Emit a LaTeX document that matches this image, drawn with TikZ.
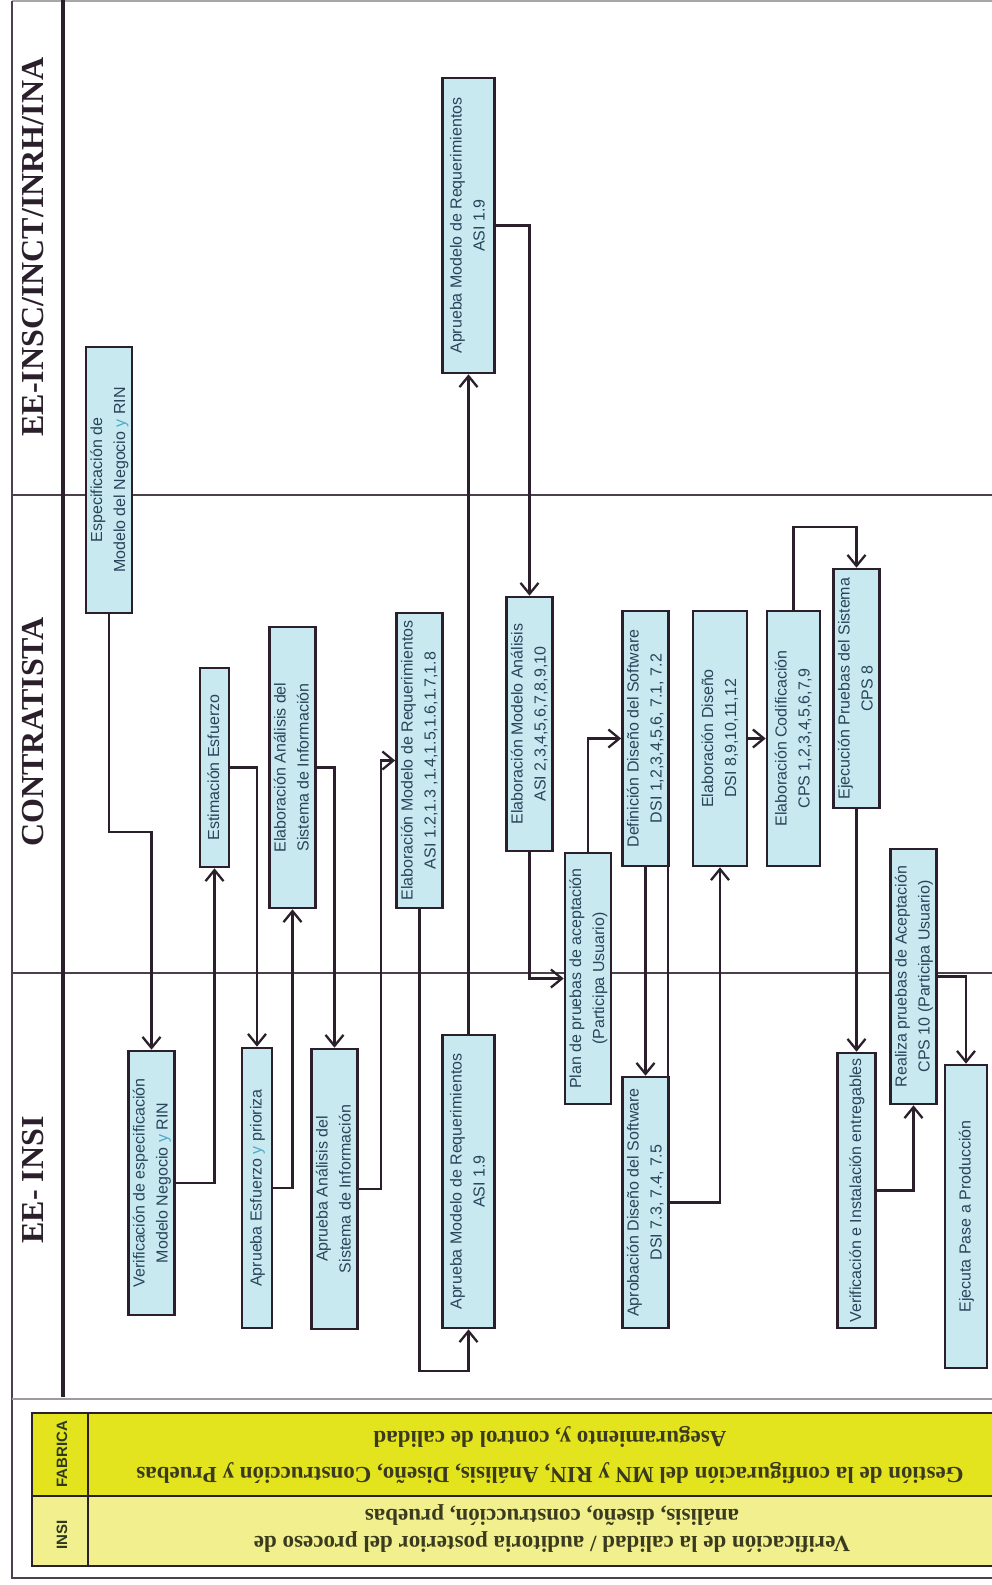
\documentclass[tikz,border=0pt]{standalone}
\usepackage{fontspec}
\usepackage{graphicx}
\setmainfont{Liberation Sans}
\newfontfamily\lanefont{Liberation Serif}
\usetikzlibrary{arrows.meta}
\definecolor{linec}{HTML}{2B1F2B}
\definecolor{boxc}{HTML}{C9E9F1}
\definecolor{txtc}{HTML}{28445A}
\definecolor{ylt}{HTML}{4FA9C8}
\definecolor{fabc}{HTML}{E3E31E}
\definecolor{insic}{HTML}{F1EF8E}
\definecolor{bandtxt}{HTML}{3A3A1E}
\definecolor{bandlbl}{HTML}{2E3A1E}
\newcommand{\vtext}[1]{\rotatebox{90}{\begin{tabular}{@{}c@{}}#1\end{tabular}}}
\tikzset{
  task/.style={draw=linec, line width=2.6pt, fill=boxc, inner sep=0pt, text=txtc,
    font=\fontsize{16}{23}\selectfont},
  flow/.style={draw=linec, line width=2.3pt, -{Straight Barb[length=11pt,width=18pt]}},
  lane/.style={draw=linec!85, line width=2pt},
  lanetitle/.style={rotate=90, text=linec, font=\lanefont\bfseries\fontsize{32}{34}\selectfont},
  bandlabel/.style={rotate=90, text=bandlbl, font=\bfseries\fontsize{15}{16}\selectfont},
  bandtext/.style={rotate=180, align=center, text=bandtxt, font=\lanefont\bfseries}
}

\begin{document}
\begin{tikzpicture}[x=1pt,y=-1pt]
\useasboundingbox (0,0) rectangle (992,1585);

% marco y carriles
\draw[lane, draw=linec!40] (12,1) -- (992,1);
\draw[lane] (12,1) -- (12,1578) -- (992,1578);
\draw[lane] (12,495) -- (992,495);
\draw[lane] (12,973) -- (992,973);
\draw[lane, draw=linec!45] (12,1399) -- (992,1399);
\draw[linec, line width=4pt] (63,0) -- (63,1397);

\node[lanetitle] (tsup) at (33,247) {EE-INSC/INCT/INRH/INA};
\node[lanetitle] (tcon) at (33,732) {CONTRATISTA};
\node[lanetitle] (tinsi) at (33,1180) {EE- INSI};

% bandas inferiores
\fill[fabc] (32,1413) rectangle (992,1496);
\fill[insic] (32,1496) rectangle (992,1566);
\draw[linec, line width=2.6pt] (992,1413) -- (32,1413) -- (32,1566) -- (992,1566);
\draw[linec, line width=2.6pt] (32,1496) -- (992,1496);
\draw[linec, line width=2.4pt] (88,1413) -- (88,1566);
\node[bandlabel] (lfab) at (62,1454) {FABRICA};
\node[bandlabel] (linsi) at (62,1535) {INSI};
\node[bandtext, font=\lanefont\bfseries\fontsize{23}{36}\selectfont] (gfab) at (550,1455)
  {Gestión de la configuración del MN y RIN, Análisis, Diseño, Construcción y Pruebas\\Aseguramiento y, control de calidad};
\node[bandtext, font=\lanefont\bfseries\fontsize{23}{27}\selectfont] (ginsi) at (552,1529)
  {Verificación de la calidad / auditoria posterior del proceso de\\análisis, diseño, construcción, pruebas};

% EE-INSC/INCT/INRH/INA
\node[task, minimum width=42, minimum height=266] (espec) at (109,480)
  {\vtext{Especificación de\\Modelo del Negocio {\color{ylt}y} RIN}};
\node[task, minimum width=52, minimum height=295] (apreq1) at (468.5,225.5)
  {\vtext{Aprueba Modelo de Requerimientos\\ASI 1.9}};

% CONTRATISTA
\node[task, minimum width=29, minimum height=199] (estim) at (214.5,767.5)
  {\vtext{Estimación Esfuerzo}};
\node[task, minimum width=41, minimum height=281] (elabas) at (292.5,767.5)
  {\vtext{Elaboración Análisis del\\Sistema de Información}};
\node[task, minimum width=43, minimum height=295] (elabreq) at (419.5,760.5)
  {\vtext{Elaboración Modelo de  Requerimientos\\ASI  1.2,1.3 ,1.4,1.5,1.6,1.7,1.8}};
\node[task, minimum width=39, minimum height=254] (elabma) at (529.5,724)
  {\vtext{Elaboración Modelo Análisis\\ASI  2,3,4,5,6,7,8,9,10}};
\node[task, minimum width=42, minimum height=251] (plan) at (588,978.5)
  {\vtext{Plan de pruebas de aceptación\\(Participa Usuario)}};
\node[task, minimum width=39, minimum height=255] (defin) at (645.5,738.5)
  {\vtext{Definición Diseño  del Software\\DSI 1,2,3,4,5,6,  7.1,  7.2}};
\node[task, minimum width=54, minimum height=255] (elabdis) at (720,738.5)
  {\vtext{Elaboración Diseño\\DSI 8,9,10,11,12}};
\node[task, minimum width=53, minimum height=255] (elabcod) at (793.5,738.5)
  {\vtext{Elaboración Codificación\\CPS 1,2,3,4,5,6,7,9}};
\node[task, minimum width=38, minimum height=239] (ejec) at (856.5,688.5)
  {\vtext{Ejecución Pruebas del Sistema\\CPS 8}};
\node[task, minimum width=39, minimum height=255] (realiza) at (913.5,976.5)
  {\vtext{Realiza pruebas de Aceptación\\CPS 10 (Participa Usuario)}};

% EE- INSI
\node[task, minimum width=43, minimum height=264] (verif) at (151.5,1183)
  {\vtext{Verificación  de especificación\\Modelo Negocio {\color{ylt}y} RIN}};
\node[task, minimum width=30, minimum height=280] (apresf) at (257,1188)
  {\vtext{Aprueba Esfuerzo  {\color{ylt}y}  prioriza}};
\node[task, minimum width=43, minimum height=280] (apran) at (334.5,1189)
  {\vtext{Aprueba Análisis del\\Sistema de Información}};
\node[task, minimum width=52, minimum height=293] (apreq2) at (468.5,1181.5)
  {\vtext{Aprueba Modelo de Requerimientos\\ASI 1.9}};
\node[task, minimum width=39, minimum height=251] (aprob) at (645.5,1202.5)
  {\vtext{Aprobación Diseño del Software\\DSI 7.3,  7.4,  7.5}};
\node[task, minimum width=38, minimum height=275] (verinst) at (856.5,1190.5)
  {\vtext{Verificación  e Instalación entregables}};
\node[task, minimum width=42, minimum height=303] (ejecuta) at (966,1216.5)
  {\vtext{Ejecuta Pase a Producción}};

% flujo
\draw[flow] (espec.south) -- ++(0,218) -| (verif.north);
\draw[flow] (verif.east) -| (estim.south);
\draw[flow] (estim.east) -| (apresf.north);
\draw[flow] (apresf.east) -| (elabas.south);
\draw[flow] (elabas.east) -| (apran.north);
\draw[flow] (apran.east) -- ++(22,0) |- (elabreq.west);
\draw[flow] (elabreq.south) -- ++(0,462) -| (apreq2.south);
\draw[flow] (apreq2.north) -- (apreq1.south);
\draw[flow] (apreq1.east) -| (elabma.north);
\draw[flow] (elabma.south) |- (plan.west);
\draw[flow] (plan.north) |- (defin.west);
\draw[flow] (defin.south) -- (aprob.north);
\draw[linec, line width=2.3pt] ([xshift=-1.5]defin.south east) -- ([xshift=-1.5]aprob.north east);
\draw[flow] (aprob.east) -| (elabdis.south);
\draw[flow] (elabdis.east) -- (elabcod.west);
\draw[flow] (elabcod.north) -- ++(0,-83) -| (ejec.north);
\draw[flow] (ejec.south) -- (verinst.north);
\draw[flow] (verinst.east) -| (realiza.south);
\draw[flow] (realiza.east) -| (ejecuta.north);

\end{tikzpicture}
\end{document}
